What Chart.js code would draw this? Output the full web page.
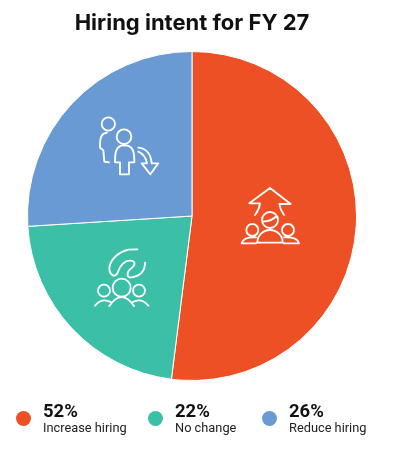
<!DOCTYPE html>
<html>
<head>
<meta charset="utf-8">
<title>Hiring intent for FY 27</title>
<script src="https://cdn.jsdelivr.net/npm/chart.js@4"></script>
<style>
  html, body { margin: 0; padding: 0; background: #fff; }
  #wrap { position: relative; width: 412px; height: 451px; overflow: hidden; font-family: Roboto, sans-serif; color: #111; }
  canvas { position: absolute; left: 0; top: 0; }
  .dot { position: absolute; width: 15px; height: 15px; border-radius: 50%; top: 411px; }
  .pct { position: absolute; top: 401px; font: 700 18.5px/20px Roboto, sans-serif; }
  .lab { position: absolute; top: 420px; font: 400 12.8px/16px Roboto, sans-serif; color: #222; }
</style>
</head>
<body>
<div id="wrap">
  <canvas id="pieChart" width="412" height="451"></canvas>
  <div id="legend"></div>
</div>
<script>
const chartTitle = 'Hiring intent for FY 27';
const categories = ['Increase hiring', 'No change', 'Reduce hiring'];
const shares = [52, 22, 26];
const sliceColors = ['#EC5024', '#3BBFA7', '#6A9AD3'];
const legendLeft = [16, 148, 262];

// line icons, sketched in 3x units from the pie centre
function drawIncreaseIcon(c) {
    c.translate(28, -46);
    c.scale(1 / 3, 1 / 3);
    c.beginPath();
    c.moveTo(105, 135); c.quadraticCurveTo(118, 118, 120, 100);
    c.lineTo(88, 100); c.lineTo(150, 54); c.lineTo(212, 102); c.lineTo(178, 102);
    c.quadraticCurveTo(180, 118, 192, 135);
    c.moveTo(174, 150); c.arc(150, 150, 24, 0, Math.PI * 2);
    c.moveTo(128, 154); c.quadraticCurveTo(152, 156, 170, 138);
    c.moveTo(112, 218); c.arc(150, 218, 38, Math.PI, 0); c.closePath();
    c.moveTo(115, 180); c.arc(97, 180, 18, 0, Math.PI * 2);
    c.moveTo(222, 180); c.arc(204, 180, 18, 0, Math.PI * 2);
    c.moveTo(65, 220); c.quadraticCurveTo(70, 200, 108, 202);
    c.moveTo(65, 220); c.lineTo(108, 220);
    c.moveTo(237, 220); c.quadraticCurveTo(232, 200, 192, 202);
    c.moveTo(237, 220); c.lineTo(192, 220);
    c.stroke();
}

function drawNoChangeIcon(c) {
    c.translate(-112, 24);
    c.scale(1 / 3, 1 / 3);
    c.beginPath();
    c.moveTo(172, 28); c.lineTo(145, 29);
    c.bezierCurveTo(120, 35, 90, 55, 88, 85);
    c.bezierCurveTo(88, 105, 105, 115, 113, 98);
    c.bezierCurveTo(120, 75, 135, 60, 152, 62);
    c.bezierCurveTo(170, 64, 165, 78, 152, 86);
    c.bezierCurveTo(138, 98, 140, 115, 155, 112);
    c.bezierCurveTo(178, 108, 195, 95, 195, 68);
    c.moveTo(152, 143); c.arc(125, 143, 27, 0, Math.PI * 2);
    c.moveTo(90, 152); c.arc(72, 152, 18, 0, Math.PI * 2);
    c.moveTo(195, 152); c.arc(177, 152, 18, 0, Math.PI * 2);
    c.moveTo(88, 198); c.quadraticCurveTo(125, 145, 162, 198);
    c.moveTo(45, 197); c.quadraticCurveTo(65, 172, 92, 186);
    c.moveTo(205, 197); c.quadraticCurveTo(185, 172, 158, 186);
    c.stroke();
}

function drawReduceIcon(c) {
    c.translate(-107, -111);
    c.scale(1 / 3, 1 / 3);
    c.beginPath();
    c.moveTo(90, 57); c.arc(70, 57, 20, 0, Math.PI * 2);
    c.moveTo(66, 83); c.bezierCurveTo(50, 85, 44, 95, 45, 128);
    c.lineTo(55, 136); c.lineTo(58, 170); c.lineTo(72, 172);
    c.moveTo(139, 95); c.arc(117, 95, 22, 0, Math.PI * 2);
    c.moveTo(108, 122); c.bezierCurveTo(92, 128, 90, 145, 90, 172);
    c.lineTo(105, 172); c.lineTo(105, 208); c.lineTo(132, 208); c.lineTo(132, 172); c.lineTo(148, 172);
    c.bezierCurveTo(148, 145, 146, 128, 128, 122); c.closePath();
    c.moveTo(160, 128); c.bezierCurveTo(185, 130, 198, 150, 200, 175);
    c.lineTo(220, 175); c.lineTo(196, 208); c.lineTo(170, 175); c.lineTo(186, 175);
    c.bezierCurveTo(182, 155, 172, 145, 160, 140);
    c.stroke();
}

const iconPlugin = {
    id: 'sliceIcons',
    afterDatasetsDraw(chart) {
        const arc = chart.getDatasetMeta(0).data[0];
        const c = chart.ctx;
        [drawIncreaseIcon, drawNoChangeIcon, drawReduceIcon].forEach(function(draw) {
            c.save();
            c.translate(arc.x, arc.y);
            c.strokeStyle = '#fff';
            c.lineWidth = 5.5;
            c.lineJoin = 'round';
            c.lineCap = 'round';
            draw(c);
            c.restore();
        });
    }
};

const ctxPie = document.getElementById('pieChart').getContext('2d');
const pieChart = new Chart(ctxPie, {
    type: 'pie',
    data: {
        labels: categories,
        datasets: [{
            data: shares,
            backgroundColor: sliceColors,
            borderColor: '#fff',
            borderWidth: 1
        }]
    },
    options: {
        responsive: false,
        animation: false,
        layout: { padding: { left: 27, right: 55, top: 4, bottom: 70 } },
        plugins: {
            legend: { display: false },
            tooltip: { enabled: false },
            title: {
                display: true,
                text: chartTitle,
                color: '#111',
                font: { family: 'Inter', size: 22, weight: '700' },
                padding: { top: 6, bottom: 14.6 }
            }
        }
    },
    plugins: [iconPlugin]
});

// legend below the pie
const legend = document.getElementById('legend');
categories.forEach(function(name, i) {
    const x = legendLeft[i];
    legend.insertAdjacentHTML('beforeend',
        `<span class="dot" style="left:${x}px;background:${sliceColors[i]}"></span>` +
        `<span class="pct" style="left:${x + 27}px">${shares[i]}%</span>` +
        `<span class="lab" style="left:${x + 27}px">${name}</span>`);
});
</script>
</body>
</html>
